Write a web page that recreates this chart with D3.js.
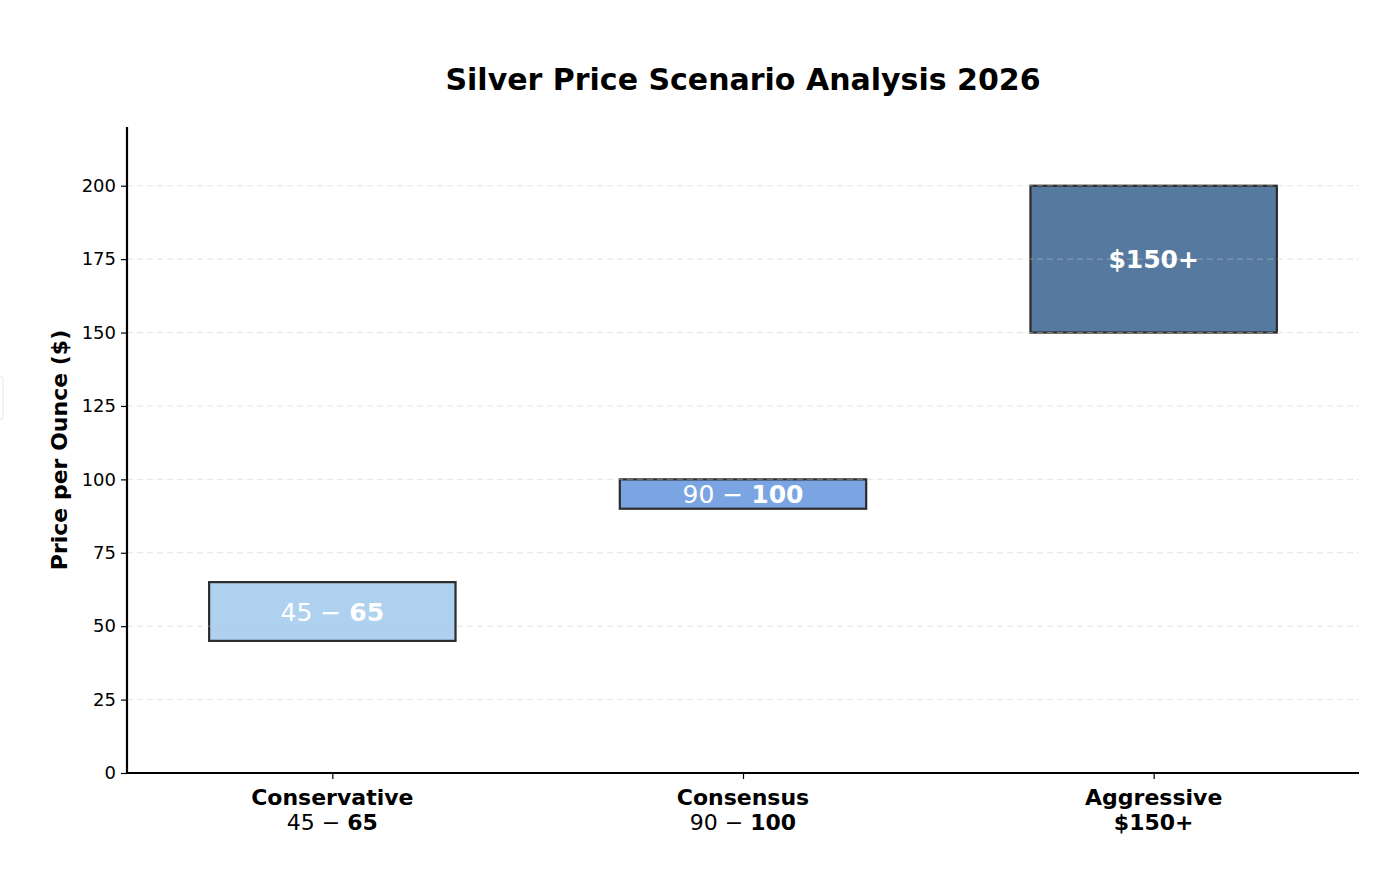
<!DOCTYPE html>
<html>
<head>
<meta charset="utf-8">
<script src="https://cdn.jsdelivr.net/npm/d3@7"></script>
<style>
  body { margin: 0; background: #fff; }
  svg text { font-family: "DejaVu Sans", sans-serif; }
</style>
</head>
<body>
<svg id="chart" width="1387" height="895"></svg>
<script>
// scenario data
const scenarios = ["Conservative", "Consensus", "Aggressive"];
const lows = [45, 90, 150];
const highs = [65, 100, 200];
const rangeLow = ["45", "90", null];
const rangeHigh = ["65", "100", "$150+"];
const yTicks = [0, 25, 50, 75, 100, 125, 150, 175, 200];
const colors = ["#aed1f0", "#7ba5e2", "#567a9f"];

const margin = { top: 127, right: 28, bottom: 122, left: 127 };
const width = 1387 - margin.left - margin.right;
const height = 895 - margin.top - margin.bottom;

const svg = d3.select("#chart");

// little ui tab on the left edge
svg.append("rect")
  .attr("x", -10).attr("y", 376).attr("width", 13).attr("height", 44)
  .attr("rx", 4).attr("fill", "#fff").attr("stroke", "#e6e6e6")

const g = svg.append("g")
  .attr("transform", `translate(${margin.left}, ${margin.top})`)

const x = d3.scaleLinear()
  .domain([-0.5, scenarios.length - 0.5])
  .range([0, width]);

const y = d3.scaleLinear()
  .domain([0, 220])
  .range([height, 0]);

const barW = x(0.6) - x(0);

// bars
g.selectAll("rect.bar")
  .data(scenarios)
  .enter()
  .append("rect")
  .attr("class", "bar")
  .attr("x", (d, i) => x(i) - barW / 2)
  .attr("y", (d, i) => y(highs[i]))
  .attr("width", barW)
  .attr("height", (d, i) => y(lows[i]) - y(highs[i]))
  .attr("fill", (d, i) => colors[i])
  .attr("stroke", "#2b2b2b")
  .attr("stroke-width", 2.2)

// grid (drawn over bars, faint)
g.append("g")
  .selectAll("line")
  .data(yTicks.slice(1))
  .enter()
  .append("line")
  .attr("x1", 0).attr("x2", width)
  .attr("y1", d => y(d)).attr("y2", d => y(d))
  .attr("stroke", "#c8c8c8")
  .attr("stroke-opacity", 0.5)
  .attr("stroke-width", 1)
  .attr("stroke-dasharray", "6,4")

// labels inside bars
const barLabels = g.selectAll("text.barlabel")
  .data(scenarios)
  .enter()
  .append("text")
  .attr("class", "barlabel")
  .attr("x", (d, i) => x(i))
  .attr("y", (d, i) => y((lows[i] + highs[i]) / 2))
  .attr("text-anchor", "middle")
  .attr("dominant-baseline", "central")
  .attr("fill", "#fff")
  .style("font-size", "25px")

barLabels.each(function(d, i) {
  const t = d3.select(this);
  if (rangeLow[i]) {
    t.append("tspan").text(rangeLow[i] + " \u2212 ");
  }
  t.append("tspan").style("font-weight", "bold").text(rangeHigh[i]);
})

// y axis
const yAxis = g.append("g")
  .call(d3.axisLeft(y).tickValues(yTicks).tickSize(6).tickPadding(5))
yAxis.select(".domain").attr("stroke", "#000").attr("stroke-width", 2.2)
  .attr("d", `M0,${height}V0`)
yAxis.selectAll(".tick line").attr("stroke", "#000").attr("stroke-width", 1.2)
yAxis.selectAll("text")
  .style("font-size", "18px")
  .style("font-family", "DejaVu Sans, sans-serif")
  .attr("fill", "#000")

// x axis
const xAxis = g.append("g")
  .attr("transform", `translate(0, ${height})`)
  .call(d3.axisBottom(x).tickValues(d3.range(scenarios.length)).tickSize(6).tickFormat(""))
xAxis.select(".domain").attr("stroke", "#000").attr("stroke-width", 2.2)
  .attr("d", `M0,0H${width}`)
xAxis.selectAll(".tick line").attr("stroke", "#000").attr("stroke-width", 1.2)

const xLabels = g.selectAll("text.xlabel")
  .data(scenarios)
  .enter()
  .append("text")
  .attr("class", "xlabel")
  .attr("x", (d, i) => x(i))
  .attr("y", height + 32)
  .attr("text-anchor", "middle")
  .style("font-size", "22px")
  .attr("fill", "#000")

xLabels.each(function(d, i) {
  const t = d3.select(this);
  t.append("tspan").attr("x", x(i)).style("font-weight", "bold").text(d);
  const line2 = t.append("tspan").attr("x", x(i)).attr("dy", 25);
  if (rangeLow[i]) {
    line2.append("tspan").text(rangeLow[i] + " \u2212 ");
  }
  line2.append("tspan").style("font-weight", "bold").text(rangeHigh[i]);
})

// y label
svg.append("text")
  .attr("transform", `translate(67, ${margin.top + y(110)}) rotate(-90)`)
  .attr("text-anchor", "middle")
  .style("font-size", "22px")
  .style("font-weight", "bold")
  .text("Price per Ounce ($)")

// title
svg.append("text")
  .attr("x", margin.left + width / 2)
  .attr("y", 90)
  .attr("text-anchor", "middle")
  .style("font-size", "30px")
  .style("font-weight", "bold")
  .text("Silver Price Scenario Analysis 2026")
</script>
</body>
</html>
